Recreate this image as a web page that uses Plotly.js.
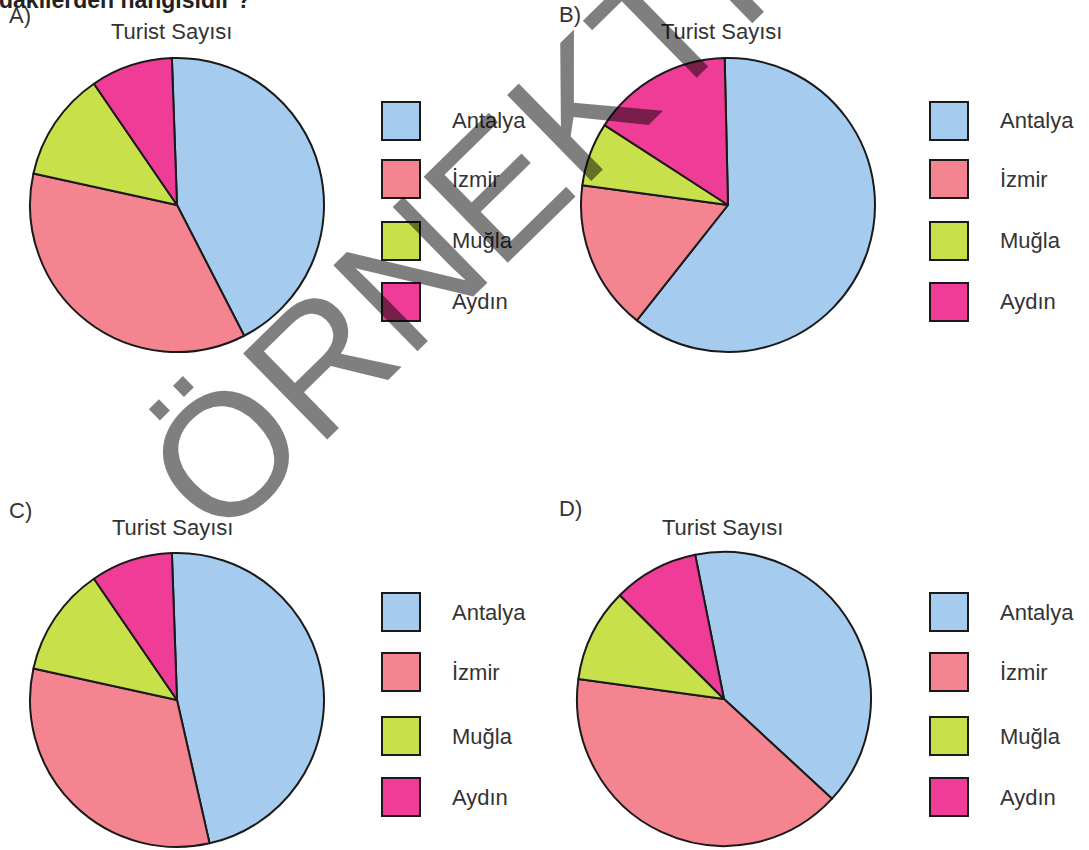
<!DOCTYPE html>
<html>
<head>
<meta charset="utf-8">
<script src="https://cdn.plot.ly/plotly-3.0.1.min.js"></script>
<style>html,body{margin:0;padding:0;background:#fff;}#chart{width:1089px;height:850px;}</style>
</head>
<body>
<div id="chart"></div>
<script>
// ---- data ----
var categories = ["Antalya", "İzmir", "Muğla", "Aydın"];
var colors = ["#A5CCEE", "#F48590", "#C8E14B", "#EF3C97"];
var valuesA = [43, 36, 12, 9];
var valuesB = [61, 16.5, 7, 15.5];
var valuesC = [47, 32, 12, 9];
var valuesD = [40, 40.3, 10.3, 9.4];
var optionLabels = ["A)", "B)", "C)", "D)"];
var chartTitle = "Turist Sayısı";
var headerText = "dakilerden hangisidir ?";
var watermarkText = "ÖRNEKTİR";

// ---- layout helpers (pixels -> paper) ----
var W = 1089, H = 850;
function px(x) { return x / W; }
function py(y) { return 1 - y / H; }

var FONT = "Liberation Sans, Arial, Helvetica, sans-serif";
var TXT = "#333333";
var FS = 22;

var panels = [
  {vals: valuesA, cx: 177, cy: 205, rot: -2,    lab: [7, 15],   title: [171, 32],  legX: 382, legY: [121, 179, 241, 302]},
  {vals: valuesB, cx: 728, cy: 205, rot: -1.3,  lab: [557, 14], title: [721, 32],  legX: 930, legY: [121, 179, 241, 302]},
  {vals: valuesC, cx: 177, cy: 700, rot: -2,    lab: [7, 510],  title: [172, 527], legX: 382, legY: [612, 672, 736, 797]},
  {vals: valuesD, cx: 724, cy: 699, rot: -11.3, lab: [557, 508], title: [722, 527], legX: 930, legY: [612, 672, 736, 797]}
];
var R = 147;

var traces = [], shapes = [], annotations = [];
panels.forEach(function (p, k) {
  traces.push({
    type: "pie",
    labels: categories,
    values: p.vals,
    sort: false,
    direction: "clockwise",
    rotation: p.rot,
    textinfo: "none",
    hoverinfo: "label+value",
    showlegend: false,
    marker: {colors: colors, line: {color: "#1a1a1a", width: 2}},
    domain: {x: [px(p.cx - R), px(p.cx + R)], y: [py(p.cy + R), py(p.cy - R)]}
  });
  annotations.push({
    text: optionLabels[k], xref: "paper", yref: "paper",
    x: px(p.lab[0]), y: py(p.lab[1]), xanchor: "left", yanchor: "middle",
    showarrow: false, font: {family: FONT, size: FS, color: TXT}
  });
  annotations.push({
    text: chartTitle, xref: "paper", yref: "paper",
    x: px(p.title[0]), y: py(p.title[1]), xanchor: "center", yanchor: "middle",
    showarrow: false, font: {family: FONT, size: FS, color: TXT}
  });
  categories.forEach(function (c, i) {
    var yc = p.legY[i];
    shapes.push({
      type: "rect", xref: "paper", yref: "paper",
      x0: px(p.legX), x1: px(p.legX + 38), y0: py(yc + 19), y1: py(yc - 19),
      fillcolor: colors[i], line: {color: "#1a1a1a", width: 2}
    });
    annotations.push({
      text: c, xref: "paper", yref: "paper",
      x: px(p.legX + 68), y: py(yc), xanchor: "left", yanchor: "middle",
      showarrow: false, font: {family: FONT, size: FS, color: TXT}
    });
  });
});

// header (cut off at the top)
annotations.push({
  text: "<b>" + headerText + "</b>", xref: "paper", yref: "paper",
  x: px(-3), y: py(15), xanchor: "left", yanchor: "bottom",
  showarrow: false, font: {family: FONT, size: 23, color: "#222"}
});
// watermark
annotations.push({
  text: watermarkText, xref: "paper", yref: "paper",
  x: px(500), y: py(185), xanchor: "center", yanchor: "middle",
  textangle: -44.4, showarrow: false,
  font: {family: FONT, size: 175, color: "rgba(0,0,0,0.5)"}
});

var layout = {
  width: W, height: H,
  margin: {l: 0, r: 0, t: 0, b: 0},
  paper_bgcolor: "#ffffff",
  plot_bgcolor: "#ffffff",
  showlegend: false,
  shapes: shapes,
  annotations: annotations
};

Plotly.newPlot("chart", traces, layout, {staticPlot: true, displayModeBar: false});
</script>
</body>
</html>
